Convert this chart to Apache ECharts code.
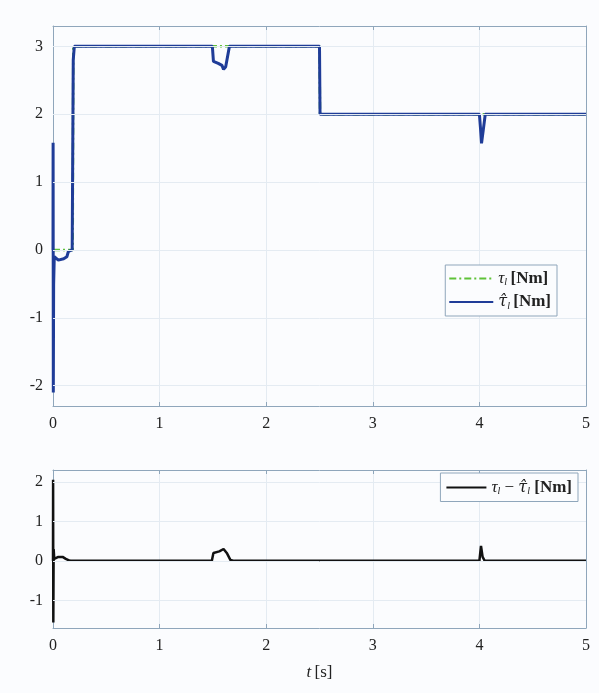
<!DOCTYPE html>
<html><head><meta charset="utf-8">
<script src="https://cdn.jsdelivr.net/npm/echarts@6/dist/echarts.min.js"></script>
<style>html,body{margin:0;padding:0;background:#fbfcfe}#c{width:599px;height:693px}</style>
</head><body><div id="c"></div>
<script>
// true load torque tau_l
const tTrue   = [0, 0.185, 0.19, 2.5, 2.505, 5];
const tauTrue = [0, 0, 3, 3, 2, 2];
// estimated load torque
const tEst   = [0, 0.001, 0.003, 0.006, 0.012, 0.05, 0.1, 0.13, 0.145, 0.18, 0.19, 0.2, 1.495, 1.505, 1.55, 1.585, 1.6, 1.62, 1.655, 2.5, 2.505, 4.0, 4.01, 4.02, 4.035, 4.055, 5];
const tauEst = [0, 1.58, -2.1, -0.5, -0.1, -0.15, -0.13, -0.1, -0.02, 0, 2.8, 3, 3, 2.78, 2.75, 2.72, 2.66, 2.7, 3, 3, 2, 2, 1.8, 1.57, 1.75, 2, 2];
// estimation error
const tErr   = [0, 0.001, 0.003, 0.006, 0.012, 0.05, 0.09, 0.12, 0.16, 0.2, 1.49, 1.505, 1.56, 1.6, 1.63, 1.665, 1.7, 4.0, 4.015, 4.03, 4.05, 5];
const errVal = [0, 2.05, -1.56, 0.3, 0.05, 0.1, 0.1, 0.05, 0, 0, 0, 0.2, 0.24, 0.3, 0.2, 0.02, 0, 0, 0.38, 0.1, 0, 0];
// tick labels
const xTicks = [0, 1, 2, 3, 4, 5];
const yTicksTop = [-2, -1, 0, 1, 2, 3];
const yTicksBot = [-1, 0, 1, 2];

const zip = (a, b) => a.map((v, i) => [v, b[i]]);
const FONT = '"Liberation Serif","DejaVu Serif",serif';
const boxColor = '#8fa6bb';
const gridColor = '#e4ebf2';

function xAx(gi, show) {
  return {
    type: 'value', gridIndex: gi, min: 0, max: 5, interval: 1,
    axisLine: {show: true, onZero: false, lineStyle: {color: boxColor, width: 1}},
    axisTick: {show: true, inside: true, length: 4, lineStyle: {color: boxColor}},
    axisLabel: {show: show, color: '#222', fontFamily: FONT, fontSize: 16, margin: 10},
    splitLine: {show: show, lineStyle: {color: gridColor, width: 1}}
  };
}
function yAx(gi, mn, mx, ticks, show, pos) {
  return {
    type: 'value', gridIndex: gi, min: mn, max: mx, position: pos,
    axisLine: {show: true, onZero: false, lineStyle: {color: boxColor, width: 1}},
    axisTick: {show: true, inside: true, length: 4, customValues: ticks, lineStyle: {color: boxColor}},
    axisLabel: {show: show, color: '#222', fontFamily: FONT, fontSize: 16, margin: 10, customValues: ticks},
    splitLine: {show: false}
  };
}

const rich = {
  t: {fontFamily: FONT, fontStyle: 'italic', fontSize: 17, color: '#222'},
  h: {fontFamily: '"DejaVu Serif",serif', fontStyle: 'italic', fontSize: 16, color: '#222'},
  s: {fontFamily: FONT, fontStyle: 'italic', fontSize: 10, color: '#222', padding: [8, 0, 0, 0]},
  m: {fontFamily: FONT, fontSize: 17, color: '#222'},
  n: {fontFamily: FONT, fontWeight: 'bold', fontSize: 17, color: '#222'}
};
const names = {
  'tau': '{t|τ}{s|l} {n|[Nm]}',
  'tauhat': '{h|τ\u0302}{s|l} {n|[Nm]}',
  'err': '{t|τ}{s|l}{m| − }{h|τ\u0302}{s|l}{m| }{n|[Nm]}'
};

// horizontal grid lines drawn as markLines at tick values
const hLines = vals => ({silent: true, symbol: 'none', label: {show: false},
  lineStyle: {color: gridColor, width: 1, type: 'solid'}, data: vals.map(v => ({yAxis: v}))});

const option = {
  backgroundColor: '#fbfcfe',
  animation: false,
  grid: [
    {left: 53, top: 26, width: 533, height: 380},
    {left: 53, top: 470, width: 533, height: 158}
  ],
  xAxis: [
    Object.assign(xAx(0, true), {position: 'bottom'}),
    Object.assign(xAx(0, false), {position: 'top'}),
    Object.assign(xAx(1, true), {position: 'bottom',
      name: '{ti|t} {n|[s]}', nameLocation: 'middle', nameGap: 36,
      nameTextStyle: {rich: {ti: {fontFamily: FONT, fontStyle: 'italic', fontSize: 17, color: '#222'},
                             n: {fontFamily: FONT, fontSize: 17, color: '#222'}}}}),
    Object.assign(xAx(1, false), {position: 'top'})
  ],
  yAxis: [
    yAx(0, -2.3, 3.3, yTicksTop, true, 'left'),
    yAx(0, -2.3, 3.3, yTicksTop, false, 'right'),
    yAx(1, -1.7, 2.3, yTicksBot, true, 'left'),
    yAx(1, -1.7, 2.3, yTicksBot, false, 'right')
  ],
  legend: [
    {data: ['tau', 'tauhat'], orient: 'vertical', right: 42, top: 265, itemWidth: 44, itemHeight: 10, itemGap: 6,
     padding: [5, 6, 5, 3], borderColor: boxColor, borderWidth: 1, backgroundColor: '#fbfcfe', z: 10,
     itemStyle: {color: 'rgba(0,0,0,0)', borderWidth: 0},
     formatter: n => names[n], textStyle: {rich: rich}},
    {data: ['err'], right: 21, top: 473, itemWidth: 40, itemHeight: 10,
     padding: [6, 6, 5, 5], borderColor: boxColor, borderWidth: 1, backgroundColor: '#fbfcfe', z: 10,
     itemStyle: {color: 'rgba(0,0,0,0)', borderWidth: 0},
     formatter: n => names[n], textStyle: {rich: rich}}
  ],
  series: [
    {name: 'grid0', type: 'line', xAxisIndex: 0, yAxisIndex: 0, data: [], markLine: hLines(yTicksTop), z: 0},
    {name: 'grid1', type: 'line', xAxisIndex: 2, yAxisIndex: 2, data: [], markLine: hLines(yTicksBot), z: 0},
    {name: 'tau', type: 'line', xAxisIndex: 0, yAxisIndex: 0, data: zip(tTrue, tauTrue), symbol: 'none',
     lineStyle: {color: '#5fc238', width: 2.5, type: [7, 3, 2, 3]}, itemStyle: {color: '#5fc238'}, z: 2},
    {name: 'tauhat', type: 'line', xAxisIndex: 0, yAxisIndex: 0, data: zip(tEst, tauEst), symbol: 'none',
     lineStyle: {color: '#1f3c98', width: 3}, itemStyle: {color: '#1f3c98'}, z: 3},
    {name: 'err', type: 'line', xAxisIndex: 2, yAxisIndex: 2, data: zip(tErr, errVal), symbol: 'none',
     lineStyle: {color: '#111', width: 2.5}, itemStyle: {color: '#111'}, z: 3}
  ]
};
echarts.init(document.getElementById('c')).setOption(option);
</script></body></html>
